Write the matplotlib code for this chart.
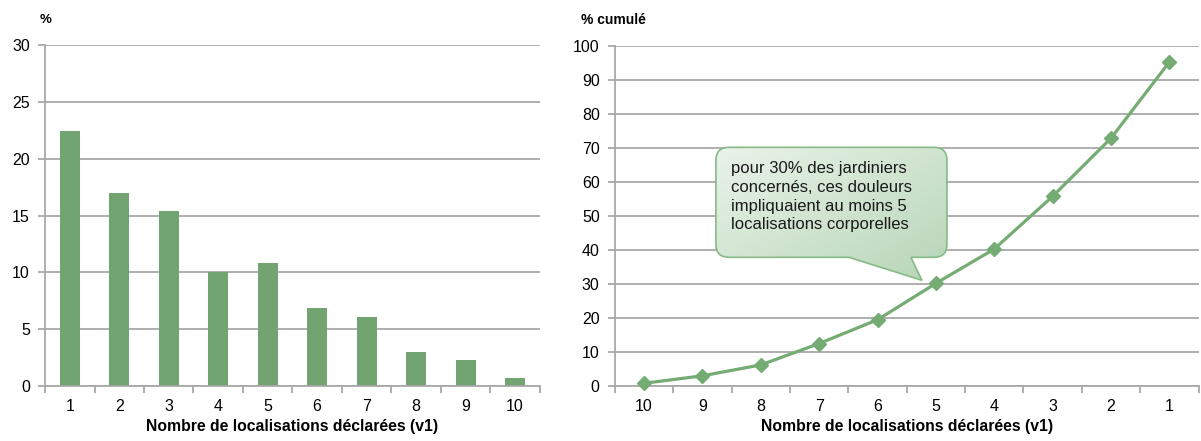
import numpy as np
import matplotlib
matplotlib.use("Agg")
import matplotlib.pyplot as plt
import matplotlib.transforms as mtransforms
from matplotlib.path import Path
from matplotlib.patches import PathPatch
from matplotlib.colors import LinearSegmentedColormap

plt.rcParams['font.family'] = ['Liberation Sans', 'DejaVu Sans']

# distribution of the number of declared body locations
nb_labels = ["1", "2", "3", "4", "5", "6", "7", "8", "9", "10"]
nb_pct = [22.4, 17.0, 15.4, 10.0, 10.8, 6.9, 6.1, 3.0, 2.3, 0.7]

# cumulated share, from 10 locations down to 1
cum_labels = ["10", "9", "8", "7", "6", "5", "4", "3", "2", "1"]
cum_pct = [0.8, 3.0, 6.2, 12.5, 19.5, 30.2, 40.3, 55.8, 72.9, 95.3]

callout_text = ("pour 30% des jardiniers\nconcernés, ces douleurs\n"
                "impliquaient au moins 5\nlocalisations corporelles")
callout_at = "5"

bar_col = "#72A472"
line_col = "#74AC74"
grid_col = "#A8A8A8"
xlabel = "Nombre de localisations déclarées (v1)"

fig = plt.figure(figsize=(12.01, 4.41), dpi=100)
ax1 = fig.add_axes([0.0375, 0.1247, 0.412, 0.773])
ax2 = fig.add_axes([0.512, 0.1247, 0.486, 0.771])


def style_axes(ax, labels, ymax, ystep):
    n = len(labels)
    ax.set_xlim(-0.5, n - 0.5)
    ax.set_ylim(0, ymax)
    ax.set_yticks(np.arange(0, ymax + 0.1, ystep))
    ax.yaxis.grid(True, color=grid_col, lw=1.3)
    ax.set_axisbelow(True)
    for s in ("top", "right"):
        ax.spines[s].set_visible(False)
    for s in ("left", "bottom"):
        ax.spines[s].set_color(grid_col)
        ax.spines[s].set_linewidth(1.3)
    # tick marks between categories, labels centred on them
    ax.set_xticks(np.arange(n + 1) - 0.5)
    ax.set_xticklabels([])
    ax.set_xticks(np.arange(n), minor=True)
    ax.set_xticklabels(labels, minor=True)
    ax.tick_params(axis="x", which="major", length=5, color=grid_col, width=1.3)
    ax.tick_params(axis="x", which="minor", length=0, pad=9, labelsize=11.5)
    ax.tick_params(axis="y", length=5, color=grid_col, width=1.3, labelsize=11.5, pad=6)
    ax.set_xlabel(xlabel, fontsize=11.3, fontweight="bold", labelpad=4)


# left: bars
x1 = np.arange(len(nb_labels))
ax1.bar(x1, nb_pct, width=0.4, color=bar_col, zorder=2)
style_axes(ax1, nb_labels, 30, 5)
fig.text(0.033, 0.955, "%", fontsize=9.5, fontweight="bold", ha="left", va="center")

# right: cumulated curve
x2 = np.arange(len(cum_labels))
ax2.plot(x2, cum_pct, color=line_col, lw=2.3, marker="D", ms=7,
         mec=line_col, mfc=line_col, zorder=3, clip_on=False)
style_axes(ax2, cum_labels, 100, 10)
fig.text(0.484, 0.955, "% cumulé", fontsize=10, fontweight="bold", ha="left", va="center")

# speech bubble pointing at the 5-locations point (offsets in inches)
i5 = cum_labels.index(callout_at)
anchor = mtransforms.ScaledTranslation(x2[i5], cum_pct[i5], ax2.transData)
btrans = fig.dpi_scale_trans + anchor
L, R, B, T, r = -2.20, 0.11, 0.26, 1.36, 0.13
t0, t1, tip = -0.87, -0.25, (-0.14, 0.03)
verts = [(L + r, B), (t0, B), tip, (t1, B), (R - r, B),
         (R, B), (R, B + r),
         (R, T - r),
         (R, T), (R - r, T),
         (L + r, T),
         (L, T), (L, T - r),
         (L, B + r),
         (L, B), (L + r, B), (L + r, B)]
codes = [Path.MOVETO, Path.LINETO, Path.LINETO, Path.LINETO, Path.LINETO,
         Path.CURVE3, Path.CURVE3,
         Path.LINETO,
         Path.CURVE3, Path.CURVE3,
         Path.LINETO,
         Path.CURVE3, Path.CURVE3,
         Path.LINETO,
         Path.CURVE3, Path.CURVE3, Path.CLOSEPOLY]
bubble = PathPatch(Path(verts, codes), transform=btrans, facecolor="none",
                   edgecolor="#86BA86", lw=1.2, zorder=5)
ax2.add_patch(bubble)

gx, gy = np.meshgrid(np.linspace(0, 1, 200), np.linspace(0, 1, 120))
grad = (gx + gy) / 2
cmap = LinearSegmentedColormap.from_list("bubble", ["#EAF3EA", "#B6D5B6"])
img = ax2.imshow(grad, cmap=cmap, extent=(L, R, 0, T), origin="upper",
                 transform=btrans, aspect="auto", zorder=4, interpolation="bilinear")
img.set_clip_path(bubble)
ax2.text(L + 0.15, T - 0.14, callout_text, transform=btrans, fontsize=12,
         ha="left", va="top", linespacing=1.3, color="#1a1a1a", zorder=6)

ax2.set_xlim(-0.5, len(cum_labels) - 0.5)
ax2.set_ylim(0, 100)

fig.savefig("out.png", dpi=100)
